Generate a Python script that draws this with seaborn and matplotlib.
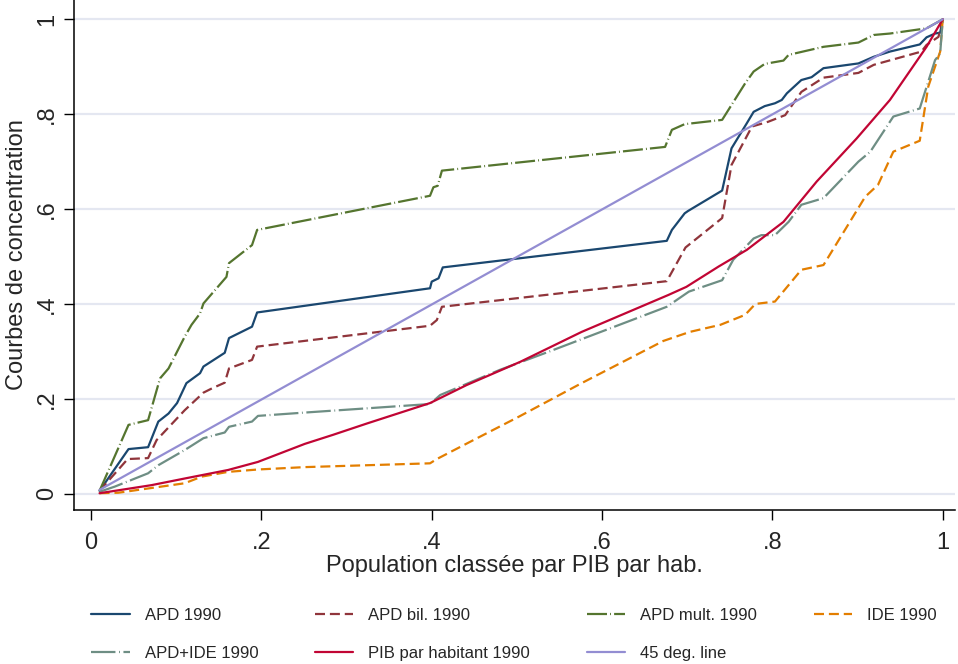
import pandas as pd
import matplotlib
matplotlib.use("Agg")
import matplotlib.pyplot as plt
import seaborn as sns

# Courbes de concentration 1990
apd_x = [0.010, 0.044, 0.067, 0.079, 0.091, 0.101, 0.112, 0.128, 0.132, 0.157, 0.162, 0.189, 0.195,
         0.398, 0.400, 0.408, 0.413, 0.676, 0.682, 0.697, 0.701, 0.741, 0.752, 0.770, 0.778, 0.791,
         0.803, 0.811, 0.817, 0.834, 0.846, 0.860, 0.901, 0.919, 0.938, 0.973, 0.981, 0.991, 0.997, 1.000]
apd_y = [0.006, 0.094, 0.098, 0.152, 0.169, 0.191, 0.233, 0.254, 0.268, 0.297, 0.328, 0.352, 0.382,
         0.433, 0.447, 0.454, 0.477, 0.533, 0.556, 0.591, 0.596, 0.639, 0.728, 0.781, 0.805, 0.817,
         0.823, 0.830, 0.844, 0.872, 0.878, 0.897, 0.907, 0.921, 0.932, 0.947, 0.962, 0.970, 0.972, 1.000]

bil_x = [0.010, 0.043, 0.067, 0.077, 0.110, 0.132, 0.142, 0.157, 0.162, 0.189, 0.195, 0.398, 0.406,
         0.412, 0.676, 0.698, 0.741, 0.752, 0.776, 0.795, 0.815, 0.834, 0.860, 0.901, 0.919, 0.975,
         0.981, 0.995, 1.000]
bil_y = [0.006, 0.073, 0.075, 0.113, 0.176, 0.213, 0.222, 0.234, 0.264, 0.282, 0.310, 0.354, 0.366,
         0.394, 0.448, 0.519, 0.581, 0.693, 0.774, 0.784, 0.798, 0.847, 0.877, 0.887, 0.904, 0.932,
         0.946, 0.963, 1.000]

mult_x = [0.010, 0.044, 0.067, 0.081, 0.091, 0.110, 0.118, 0.128, 0.132, 0.159, 0.162, 0.189, 0.195,
          0.398, 0.402, 0.407, 0.412, 0.674, 0.682, 0.697, 0.741, 0.768, 0.778, 0.791, 0.813, 0.819,
          0.860, 0.901, 0.919, 0.938, 0.981, 1.000]
mult_y = [0.006, 0.145, 0.155, 0.243, 0.264, 0.331, 0.356, 0.380, 0.401, 0.457, 0.486, 0.524, 0.556,
          0.628, 0.646, 0.649, 0.681, 0.731, 0.767, 0.779, 0.788, 0.865, 0.890, 0.906, 0.913, 0.925,
          0.942, 0.951, 0.967, 0.970, 0.981, 1.000]

ide_x = [0.010, 0.032, 0.110, 0.130, 0.161, 0.196, 0.251, 0.398, 0.406, 0.449, 0.502, 0.576, 0.672,
         0.703, 0.739, 0.768, 0.780, 0.803, 0.834, 0.860, 0.909, 0.924, 0.942, 0.973, 0.983, 0.997, 1.000]
ide_y = [0.001, 0.002, 0.022, 0.036, 0.046, 0.051, 0.056, 0.064, 0.073, 0.113, 0.162, 0.233, 0.322,
         0.341, 0.356, 0.377, 0.400, 0.405, 0.472, 0.482, 0.626, 0.651, 0.721, 0.744, 0.858, 0.932, 1.000]

apdide_x = [0.010, 0.028, 0.067, 0.079, 0.110, 0.132, 0.157, 0.162, 0.189, 0.196, 0.251, 0.398, 0.410,
            0.480, 0.537, 0.676, 0.702, 0.741, 0.754, 0.778, 0.787, 0.803, 0.819, 0.834, 0.860, 0.901,
            0.915, 0.942, 0.973, 0.991, 0.997, 1.000]
apdide_y = [0.004, 0.015, 0.043, 0.060, 0.092, 0.117, 0.129, 0.141, 0.152, 0.164, 0.171, 0.189, 0.208,
            0.261, 0.299, 0.394, 0.426, 0.450, 0.493, 0.538, 0.545, 0.545, 0.573, 0.609, 0.623, 0.700,
            0.721, 0.795, 0.812, 0.914, 0.928, 1.000]

pib_x = [0.010, 0.071, 0.110, 0.161, 0.196, 0.251, 0.284, 0.324, 0.398, 0.441, 0.504, 0.576, 0.678,
         0.699, 0.737, 0.770, 0.813, 0.852, 0.899, 0.938, 0.981, 1.000]
pib_y = [0.001, 0.018, 0.032, 0.050, 0.067, 0.105, 0.124, 0.148, 0.191, 0.229, 0.278, 0.341, 0.419,
         0.436, 0.479, 0.514, 0.573, 0.658, 0.749, 0.830, 0.942, 1.000]

diag_x = [0.010, 1.000]
diag_y = [0.008, 1.000]

noms = ["APD 1990", "APD bil. 1990", "APD mult. 1990", "IDE 1990",
        "APD+IDE 1990", "PIB par habitant 1990", "45 deg. line"]
donnees = [(apd_x, apd_y), (bil_x, bil_y), (mult_x, mult_y), (ide_x, ide_y),
           (apdide_x, apdide_y), (pib_x, pib_y), (diag_x, diag_y)]
couleurs = ["#1a476f", "#90353b", "#55752f", "#e37e00", "#6e8e84", "#c10534", "#938dd2"]
tirets = ["", (4.5, 2.2), (9, 1.4, 0.4, 1.4), (4.5, 2.2), (11, 1.6, 0.4, 1.6), "", ""]

lignes = []
for nom, (xs, ys) in zip(noms, donnees):
    for i, (a, b) in enumerate(zip(xs, ys)):
        lignes.append({"serie": nom, "ordre": i, "pop": a, "conc": b})
df = pd.DataFrame(lignes)

sns.set_theme(style="white")
plt.rcParams["font.family"] = ["Liberation Sans", "DejaVu Sans"]

fig = plt.figure(figsize=(9.58, 6.64), dpi=100)
ax = fig.add_axes([74 / 958, 1 - 510 / 664, 881 / 958, 510 / 664])

sns.lineplot(data=df, x="pop", y="conc", hue="serie", style="serie", hue_order=noms, style_order=noms,
             palette=dict(zip(noms, couleurs)), dashes=dict(zip(noms, tirets)),
             sort=False, estimator=None, linewidth=1.6, legend=False, ax=ax)

ax.set_xlim(-0.020, 1.0144)
ax.set_ylim(-0.0344, 1.0407)
graduations = [0, 0.2, 0.4, 0.6, 0.8, 1]
etiquettes = ["0", ".2", ".4", ".6", ".8", "1"]
ax.set_xticks(graduations)
ax.set_xticklabels(etiquettes)
ax.set_yticks(graduations)
ax.set_yticklabels(etiquettes, rotation=90, va="center")
ax.tick_params(axis="both", direction="out", length=7.5, width=1, color="black",
               labelsize=17, left=True, bottom=True)
ax.tick_params(axis="x", pad=8)
ax.tick_params(axis="y", pad=4)
ax.grid(axis="y", color="#e4e7f1", linewidth=1.6)
ax.set_axisbelow(True)
for cote in ["top", "right"]:
    ax.spines[cote].set_visible(False)
for cote in ["left", "bottom"]:
    ax.spines[cote].set_color("black")
    ax.spines[cote].set_linewidth(1.1)

ax.set_xlabel("Population classée par PIB par hab.", fontsize=17)
ax.set_ylabel("Courbes de concentration", fontsize=17)
ax.xaxis.set_label_coords(0.5, -0.088)
ax.yaxis.set_label_coords(-0.052, 0.5)

# legende en lignes : 4 colonnes, remplissage par colonne
ordre = [0, 4, 1, 5, 2, 6, 3]
poignees = [ax.lines[i] for i in ordre]
ax.legend(poignees, [noms[i] for i in ordre], ncol=4, loc="center", frameon=False,
          bbox_to_anchor=(0.5365, 0.0444), bbox_transform=fig.transFigure,
          fontsize=12, handlelength=2.3, handletextpad=0.9, columnspacing=3.4, labelspacing=1.35)

fig.savefig("out.png", dpi=100)
